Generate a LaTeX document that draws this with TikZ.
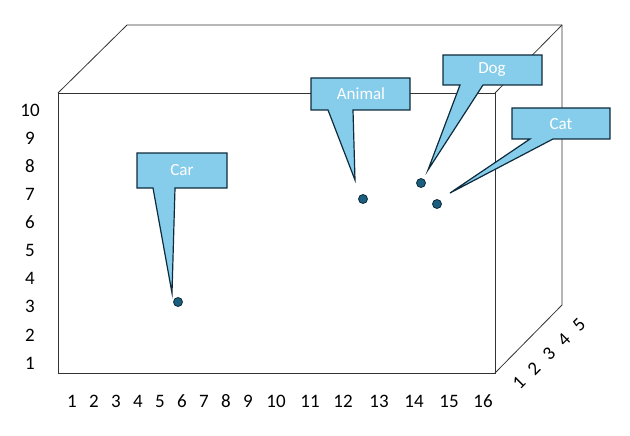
\documentclass[tikz,border=0pt]{standalone}
\usepackage{fontspec}
\setmainfont{Carlito}
\begin{document}
\begin{tikzpicture}[x=1pt,y=-1pt,
  edge/.style={draw=black!80,line width=0.8pt},
  callout/.style={fill=calloutblue,draw=calloutline,line width=1.2pt},
  dot/.style={circle,fill=dotblue,draw=calloutline,line width=0.8pt,inner sep=0pt,minimum size=9pt},
  lbl/.style={font=\fontsize{19}{19}\selectfont},
  ctext/.style={text=white,font=\fontsize{17}{17}\selectfont}]
\definecolor{calloutblue}{HTML}{86CDEB}
\definecolor{calloutline}{HTML}{0E2B3D}
\definecolor{dotblue}{HTML}{1B5E7E}
\useasboundingbox (0,0) rectangle (630,436);
% box
\coordinate (ftl) at (58,93); \coordinate (ftr) at (495,93);
\coordinate (fbl) at (58,373); \coordinate (fbr) at (495,373);
\coordinate (btl) at (127,25); \coordinate (btr) at (562,25);
\coordinate (bbr) at (562,305);
\draw[edge] (ftl) rectangle (fbr);
\draw[edge] (ftl) -- (btl) -- (btr) -- (bbr) -- (fbr);
\draw[edge] (ftr) -- (btr);
% labels
\foreach \i in {1,...,10} \node[lbl] (y\i) at (30,{363-(\i-1)*28.1}) {\i};
\foreach \i/\xx in {1/72,2/94,3/116,4/138,5/160,6/182,7/204,8/226,9/248,10/276,11/310,12/343,13/379,14/414,15/449,16/483} \node[lbl] (x\i) at (\xx,401) {\i};
\foreach \i in {1,...,5} \node[lbl,rotate=45] (z\i) at ({519+(\i-1)*15},{383-(\i-1)*14.5}) {\i};
% dots
\node[dot] (car) at (178,302) {};
\node[dot] (animal) at (363,199) {};
\node[dot] (dog) at (421,183) {};
\node[dot] (cat) at (437,204) {};
% callouts
\coordinate (carP) at (172,293);
\coordinate (animalP) at (355,180);
\coordinate (dogP) at (428,170);
\coordinate (catP) at (450,193);
\draw[callout] (137,153) -- (227,153) -- (227,188) -- (175,188) -- (carP) -- (153,188) -- (137,188) -- cycle;
\node[ctext] (carT) at (182,170) {Car};
\draw[callout] (311,78) -- (410,78) -- (410,110) -- (353,110) -- (animalP) -- (328,110) -- (311,110) -- cycle;
\node[ctext] (animalT) at (361,94) {Animal};
\draw[callout] (443,55) -- (542,55) -- (542,85) -- (483,85) -- (dogP) -- (460,85) -- (443,85) -- cycle;
\node[ctext] (dogT) at (492,70) {Dog};
\draw[callout] (512,108) -- (610,108) -- (610,139) -- (553,139) -- (catP) -- (530,139) -- (512,139) -- cycle;
\node[ctext] (catT) at (561,124) {Cat};
\end{tikzpicture}
\end{document}
